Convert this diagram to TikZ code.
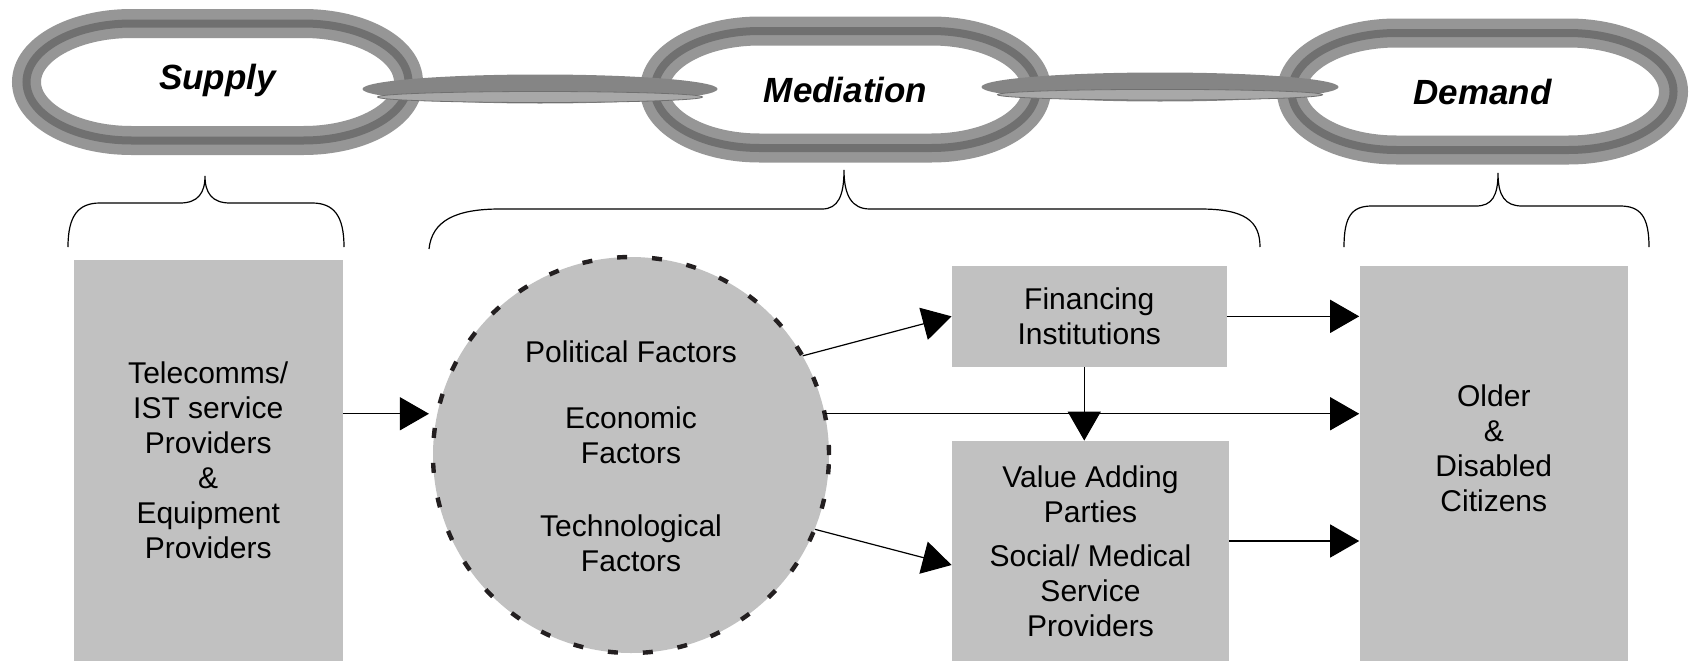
\documentclass[tikz,border=0pt]{standalone}
\usepackage{fontspec}
\setmainfont{Liberation Sans}
\usetikzlibrary{arrows.meta,positioning}
\definecolor{boxgray}{RGB}{193,193,193}
\definecolor{ringlight}{RGB}{150,150,150}
\definecolor{ringdark}{RGB}{112,112,112}
\definecolor{barlight}{RGB}{168,168,168}
\definecolor{bardark}{RGB}{133,133,133}
\definecolor{dashblack}{RGB}{35,31,32}
\tikzset{
  ring/.style={draw=ringlight, double=ringdark, double distance=4pt, line width=5.25pt, fill=white},
  linklabel/.style={font=\fontsize{17.5pt}{20pt}\selectfont\bfseries\itshape},
  txt/.style={font=\fontsize{15pt}{17.5pt}\selectfont, align=center, inner sep=0pt},
  box/.style={txt, fill=boxgray},
  factors/.style={circle, fill=boxgray, minimum size=198pt, inner sep=0pt},
  dashring/.style={draw=dashblack, line width=2.2pt, dash pattern=on 5pt off 12.5pt},
  arr/.style={-{Triangle[length=14.5pt,width=16.5pt]}, line width=0.6pt},
  brace/.style={line width=0.6pt}
}
% one link of the chain, drawn round a coordinate
\newcommand{\chainring}[1]{%
  \draw[ring] ([shift={(-86,58.5)}]#1) -- ++(172,0)
    arc[start angle=90, end angle=-90, x radius=52.5pt, y radius=29.25pt]
    -- ++(-172,0)
    arc[start angle=270, end angle=90, x radius=52.5pt, y radius=29.25pt] -- cycle;}
\begin{document}
\begin{tikzpicture}[x=0.5pt,y=0.5pt]
    \useasboundingbox (0,0) rectangle (1696,661);

    % the chain
    \coordinate (supplyc) at (217.5,579);
    \coordinate (mediac) at (845.5,571.5);
    \coordinate (demandc) at (1482.5,569.5);
    \chainring{supplyc}
    \chainring{mediac}
    \chainring{demandc}
    \fill[bardark] (540,572) ellipse [x radius=88.75pt, y radius=7.25pt]; % bar Supply--Mediation
    \filldraw[fill=barlight, draw=ringdark, line width=0.4pt] (540,564) ellipse [x radius=81.25pt, y radius=2.75pt];
    \fill[bardark] (1160,574) ellipse [x radius=89.25pt, y radius=7.25pt]; % bar Mediation--Demand
    \filldraw[fill=barlight, draw=ringdark, line width=0.4pt] (1160,566.3) ellipse [x radius=81.25pt, y radius=2.65pt];
    \node[linklabel] (supplyt) at ([yshift=1pt]supplyc) {Supply};
    \node[linklabel] (mediat) at (mediac) {Mediation};
    \node[linklabel] (demandt) at (demandc) {Demand};

    % braces
    \draw[brace] (68,414) .. controls (68,445) and (78,458) .. (100,458) -- (180,458)
        .. controls (198,458) and (205,468) .. (205,485)
        .. controls (205,468) and (212,458) .. (230,458) -- (312,458)
        .. controls (334,458) and (344,445) .. (344,414);
    \draw[brace] (429,412) .. controls (432,440) and (455,452) .. (500,452) -- (822,452)
        .. controls (838,452) and (844,465) .. (844,491)
        .. controls (844,465) and (852,452) .. (870,452) -- (1200,452)
        .. controls (1245,452) and (1260,440) .. (1260,414);
    \draw[brace] (1344,414) .. controls (1344,445) and (1352,455) .. (1372,455) -- (1476,455)
        .. controls (1492,455) and (1498,465) .. (1498,488)
        .. controls (1498,465) and (1505,455) .. (1522,455) -- (1620,455)
        .. controls (1640,455) and (1649,445) .. (1649,414);

    % boxes
    \node[box, minimum width=134.75pt, minimum height=200.7pt] (supply) at (208.25,200.7)
        {Telecomms/\\IST service\\Providers\\\&\\Equipment\\Providers};
    \node[factors] (pest) at (631,206) {};
    \draw[dashring] (pest.center) circle [radius=99pt];
    \node[txt] (polit) at ([yshift=51.75pt]pest.center) {Political Factors};
    \node[txt] (econ) at ([yshift=10pt]pest.center) {Economic\\Factors};
    \node[txt] (tech) at ([yshift=-44pt]pest.center) {Technological\\Factors};
    \node[box, minimum width=137.25pt, minimum height=50.35pt] (fin) at (1089.25,344.65)
        {Financing\\Institutions};
    \node[box, minimum width=138.5pt, minimum height=110pt] (value) at (1090.5,110)
        {Value Adding\\Parties\\[4.5pt]Social/ Medical\\Service\\Providers};
    \node[box, minimum width=134.2pt, minimum height=197.5pt] (older) at (1493.8,197.5) {};
    \node[txt] (oldert) at ([yshift=7.75pt]older.center) {Older\\\&\\Disabled\\Citizens};

    % arrows
    \draw[arr] (supply.east |- pest.168) -- ([xshift=-4pt]pest.168);
    \draw[arr] (pest.30) -- (fin.west);
    \draw[arr] (pest.12) -- (pest.12 -| older.west);
    \draw[arr] (pest.-22) -- ([yshift=-7pt]value.west);
    \draw[arr] ([xshift=-2.5pt]fin.south) -- ([xshift=-2.5pt]fin.south |- value.north);
    \draw[arr] (fin.east) -- (fin.east -| older.west);
    \draw[arr] ([yshift=5pt]value.east) -- ([yshift=5pt]value.east -| older.west);
\end{tikzpicture}
\end{document}
